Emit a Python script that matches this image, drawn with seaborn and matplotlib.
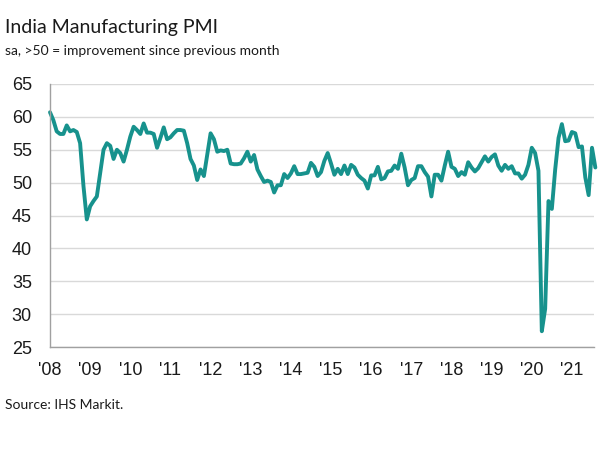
import numpy as np
import pandas as pd
import matplotlib.pyplot as plt
import seaborn as sns

# monthly PMI readings, Jan 2008 - Aug 2021
pmi_2008 = [60.7, 59.5, 57.8, 57.4, 57.4, 58.7, 57.8, 58.0, 57.7, 56.0, 49.5, 44.4]
pmi_2009 = [46.4, 47.2, 47.9, 51.5, 55.0, 56.0, 55.6, 53.6, 55.0, 54.5, 53.2, 55.0]
pmi_2010 = [57.0, 58.5, 58.0, 57.4, 59.0, 57.6, 57.6, 57.4, 55.3, 56.8, 58.4, 56.6]
pmi_2011 = [56.9, 57.5, 58.0, 58.0, 57.9, 56.0, 53.6, 52.6, 50.4, 52.0, 51.0, 54.2]
pmi_2012 = [57.5, 56.6, 54.7, 54.9, 54.8, 55.0, 52.9, 52.8, 52.8, 52.9, 53.7, 54.7]
pmi_2013 = [53.2, 54.2, 52.0, 51.0, 50.1, 50.3, 50.1, 48.5, 49.6, 49.6, 51.3, 50.7]
pmi_2014 = [51.4, 52.5, 51.3, 51.3, 51.4, 51.5, 53.0, 52.4, 51.0, 51.6, 53.3, 54.5]
pmi_2015 = [52.9, 51.2, 52.1, 51.3, 52.6, 51.3, 52.7, 52.3, 51.2, 50.7, 50.3, 49.1]
pmi_2016 = [51.1, 51.1, 52.4, 50.5, 50.7, 51.7, 51.8, 52.6, 52.1, 54.4, 52.3, 49.6]
pmi_2017 = [50.4, 50.7, 52.5, 52.5, 51.6, 50.9, 47.9, 51.2, 51.2, 50.3, 52.6, 54.7]
pmi_2018 = [52.4, 52.1, 51.0, 51.6, 51.2, 53.1, 52.3, 51.7, 52.2, 53.1, 54.0, 53.2]
pmi_2019 = [53.9, 54.3, 52.6, 51.8, 52.7, 52.1, 52.5, 51.4, 51.4, 50.6, 51.2, 52.7]
pmi_2020 = [55.3, 54.5, 51.8, 27.4, 30.8, 47.2, 46.0, 52.0, 56.8, 58.9, 56.3, 56.4]
pmi_2021 = [57.7, 57.5, 55.4, 55.5, 50.8, 48.1, 55.3, 52.3]

years = list(range(2008, 2022))
year_labels = ["'" + str(y)[2:] for y in years]

pmi = (pmi_2008 + pmi_2009 + pmi_2010 + pmi_2011 + pmi_2012 + pmi_2013 + pmi_2014
       + pmi_2015 + pmi_2016 + pmi_2017 + pmi_2018 + pmi_2019 + pmi_2020 + pmi_2021)
months = pd.date_range("2008-01-01", periods=len(pmi), freq="MS")
df = pd.DataFrame({"date": months.year + (months.month - 1) / 12, "pmi": pmi})

sns.set_style("white")
plt.rcParams["font.family"] = ["Liberation Sans", "DejaVu Sans"]

fig = plt.figure(figsize=(6, 4.5), dpi=100)
ax = fig.add_axes([50 / 600, 1 - 347 / 450, (594 - 50) / 600, (347 - 84) / 450])

sns.lineplot(data=df, x="date", y="pmi", ax=ax, color="#17928d", linewidth=2.8)
ax.lines[0].set_clip_on(False)

ax.set_xlim(2008, 2021.55)
ax.set_ylim(25, 65)
ax.set_xticks(years)
ax.set_xticklabels(year_labels)
ax.set_yticks(range(25, 70, 5))
ax.set_xlabel("")
ax.set_ylabel("")

ax.yaxis.grid(True, color="#d9d9d9", linewidth=1)
ax.set_axisbelow(True)
for s in ["top", "right"]:
    ax.spines[s].set_visible(False)
for s in ["left", "bottom"]:
    ax.spines[s].set_color("#a0a0a0")
    ax.spines[s].set_linewidth(1)
ax.tick_params(axis="both", direction="out", length=5, width=1, color="#a0a0a0",
               labelsize=13, labelcolor="#1a1a1a")
ax.tick_params(axis="y", pad=8)
ax.tick_params(axis="x", pad=6)

fig.text(0.008, 1 - 27 / 450, "India Manufacturing PMI", fontsize=14, family="Lato",
         va="center", ha="left", color="#1a1a1a")
fig.text(0.008, 1 - 51 / 450, "sa, >50 = improvement since previous month", fontsize=10,
         family="Lato", va="center", ha="left", color="#1a1a1a")
fig.text(0.008, 1 - 405 / 450, "Source: IHS Markit.", fontsize=10, family="Lato",
         va="center", ha="left", color="#1a1a1a")

plt.savefig("out.png", dpi=100)
plt.close()
